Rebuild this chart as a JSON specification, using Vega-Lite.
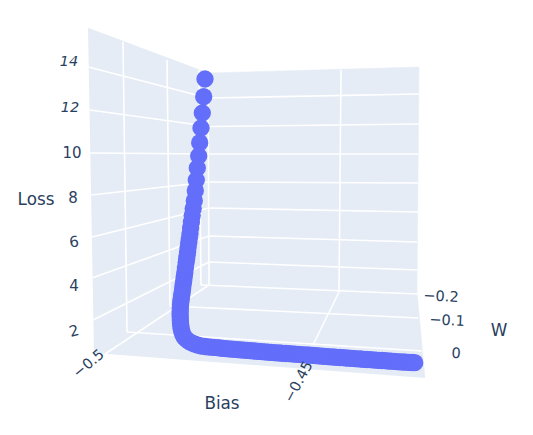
{
"$schema":"https://vega.github.io/schema/vega-lite/v6.json",
"width":533,"height":435,"padding":0,"autosize":"none","background":"white",
"view":{"stroke":null},
"encoding":{
"x":{"field":"x","type":"quantitative","scale":{"domain":[0,533],"range":[0,533]},"axis":null},
"y":{"field":"y","type":"quantitative","scale":{"domain":[435,0],"range":[435,0],"reverse":false},"axis":null}
},
"layer":[
{"data":{"values":[
{"pane":"left","i":0,"x":88,"y":28},{"pane":"left","i":1,"x":208,"y":73},{"pane":"left","i":2,"x":209,"y":285},{"pane":"left","i":3,"x":94,"y":353},
{"pane":"back","i":0,"x":208,"y":73},{"pane":"back","i":1,"x":419,"y":67},{"pane":"back","i":2,"x":417,"y":292},{"pane":"back","i":3,"x":209,"y":285},
{"pane":"floor","i":0,"x":94,"y":353},{"pane":"floor","i":1,"x":209,"y":285},{"pane":"floor","i":2,"x":417,"y":292},{"pane":"floor","i":3,"x":425,"y":378}
]},
"mark":{"type":"line","fill":"#e5ecf6","stroke":"#e5ecf6","strokeWidth":0.5},
"encoding":{"detail":{"field":"pane"},"order":{"field":"i","type":"quantitative"}}},
{"data":{"values":[
{"x":88.5,"y":67,"x2":208,"y2":98},{"x":208,"y":98,"x2":419,"y2":94},
{"x":90,"y":110,"x2":210,"y2":126.5},{"x":210,"y":126.5,"x2":419,"y2":124},
{"x":90,"y":153,"x2":210,"y2":154},{"x":210,"y":154,"x2":418,"y2":154},
{"x":91,"y":195,"x2":209,"y2":182},{"x":209,"y":182,"x2":418,"y2":183},
{"x":92,"y":237,"x2":209,"y2":208},{"x":209,"y":208,"x2":418,"y2":212},
{"x":92,"y":278,"x2":209,"y2":236},{"x":209,"y":236,"x2":417,"y2":242},
{"x":93,"y":320,"x2":209,"y2":262},{"x":209,"y":262,"x2":417,"y2":270},
{"x":123,"y":42,"x2":127,"y2":332},{"x":167,"y":60,"x2":170,"y2":306},{"x":199,"y":70,"x2":201,"y2":285},
{"x":208,"y":73,"x2":209,"y2":285},{"x":341,"y":70,"x2":339,"y2":292},
{"x":127,"y":332,"x2":422,"y2":351},{"x":170,"y":306,"x2":418,"y2":318},{"x":201,"y":285,"x2":417,"y2":294},
{"x":105,"y":354,"x2":209,"y2":285},{"x":313,"y":345,"x2":339,"y2":292}
]},
"mark":{"type":"rule","stroke":"#ffffff","strokeWidth":1.6},
"encoding":{"x2":{"field":"x2"},"y2":{"field":"y2"}}},
{"data":{"values":[
{"x":205,"y":79},{"x":203.7,"y":96.7},{"x":202.3,"y":113},{"x":201,"y":128},{"x":199.7,"y":142.7},{"x":198.7,"y":156},{"x":197.3,"y":168},{"x":196.3,"y":180},{"x":195.3,"y":190.7},{"x":194.3,"y":200.7},
{"x":193.2,"y":208.5},{"x":192.2,"y":215.5},{"x":191.4,"y":222},{"x":190.6,"y":228},{"x":190,"y":233.5},{"x":189.3,"y":238.5},{"x":188.7,"y":243},{"x":188.1,"y":247.5},{"x":187.6,"y":251.5},{"x":187.1,"y":255.5},{"x":186.6,"y":259},{"x":186.1,"y":262.5},{"x":185.4,"y":268},{"x":184.8,"y":273},{"x":184.2,"y":277},{"x":183.7,"y":281},{"x":183.1,"y":285},{"x":182.6,"y":289},{"x":182.1,"y":293},{"x":181.6,"y":296},{"x":181.2,"y":299},{"x":180.8,"y":302},{"x":180.5,"y":305},{"x":180.3,"y":308},{"x":180.2,"y":311},{"x":180.1,"y":314},{"x":180.2,"y":317},{"x":180.3,"y":320},{"x":180.5,"y":323},{"x":180.8,"y":326},{"x":181.2,"y":329},{"x":182,"y":332},{"x":183,"y":335},{"x":184.5,"y":337.5},{"x":186.5,"y":339.5},{"x":189,"y":341.5},{"x":192,"y":343},{"x":195,"y":344.2},{"x":198,"y":345.2},{"x":201,"y":346},{"x":205,"y":346.5},
{"x":208,"y":346.8},{"x":211,"y":347.1},{"x":214,"y":347.4},{"x":217,"y":347.7},{"x":220,"y":348},{"x":223,"y":348.3},{"x":226,"y":348.6},{"x":229,"y":348.9},{"x":232,"y":349.1},{"x":235,"y":349.4},{"x":238,"y":349.6},{"x":241,"y":349.9},{"x":244,"y":350.1},{"x":247,"y":350.4},{"x":250,"y":350.7},{"x":253,"y":350.9},{"x":256,"y":351.2},{"x":259,"y":351.4},{"x":262,"y":351.7},{"x":265,"y":351.9},{"x":268,"y":352.2},{"x":271,"y":352.4},{"x":274,"y":352.6},{"x":277,"y":352.8},{"x":280,"y":353},{"x":283,"y":353.3},{"x":286,"y":353.5},{"x":289,"y":353.7},{"x":292,"y":353.9},{"x":295,"y":354.1},{"x":298,"y":354.4},{"x":301,"y":354.6},{"x":304,"y":354.8},{"x":307,"y":355},{"x":310,"y":355.2},{"x":313,"y":355.4},{"x":316,"y":355.7},{"x":319,"y":355.9},{"x":322,"y":356.1},{"x":325,"y":356.4},{"x":328,"y":356.6},{"x":331,"y":356.8},{"x":334,"y":357},{"x":337,"y":357.3},{"x":340,"y":357.5},{"x":343,"y":357.7},{"x":346,"y":358},{"x":349,"y":358.2},{"x":352,"y":358.4},{"x":355,"y":358.6},{"x":358,"y":358.8},{"x":361,"y":359},{"x":364,"y":359.3},{"x":367,"y":359.5},{"x":370,"y":359.7},{"x":373,"y":359.9},{"x":376,"y":360.1},{"x":379,"y":360.3},{"x":382,"y":360.5},{"x":385,"y":360.7},{"x":388,"y":361},{"x":391,"y":361.2},{"x":394,"y":361.4},{"x":397,"y":361.6},{"x":400,"y":361.8},{"x":403,"y":362},{"x":406,"y":362.2},{"x":409,"y":362.3},{"x":412,"y":362.5},{"x":414.7,"y":362.7}
]},
"mark":{"type":"point","filled":true,"shape":"circle","size":300,"color":"#636efa","opacity":1,"strokeWidth":0}},
{"data":{"values":[
{"label":"14","x":69,"y":62},{"label":"12","x":70,"y":108}
]},
"mark":{"type":"text","font":"DejaVu Sans","fontSize":14.5,"fontStyle":"italic","color":"#2a3f5f","align":"center","baseline":"middle"},
"encoding":{"text":{"field":"label"}}},
{"data":{"values":[
{"label":"10","x":72,"y":153,"a":0},{"label":"8","x":73,"y":198,"a":0},{"label":"6","x":74,"y":242,"a":352},{"label":"4","x":74,"y":286,"a":0},{"label":"2","x":74,"y":331,"a":345}
]},
"mark":{"type":"text","font":"DejaVu Sans","fontSize":15,"color":"#2a3f5f","align":"center","baseline":"middle"},
"encoding":{"text":{"field":"label"},"angle":{"field":"a","type":"quantitative","scale":null}}},
{"data":{"values":[
{"label":"−0.5","x":89,"y":364,"a":320},{"label":"−0.45","x":299,"y":382,"a":298},
{"label":"−0.2","x":441,"y":297,"a":3},{"label":"−0.1","x":447,"y":321,"a":3},{"label":"0","x":456,"y":354,"a":3}
]},
"mark":{"type":"text","font":"DejaVu Sans","fontSize":14.5,"color":"#2a3f5f","align":"center","baseline":"middle"},
"encoding":{"text":{"field":"label"},"angle":{"field":"a","type":"quantitative","scale":null}}},
{"data":{"values":[
{"label":"Loss","x":36,"y":200},{"label":"Bias","x":222,"y":404},{"label":"W","x":499,"y":331}
]},
"mark":{"type":"text","font":"DejaVu Sans","fontSize":16.8,"color":"#2a3f5f","align":"center","baseline":"middle"},
"encoding":{"text":{"field":"label"}}}
]
}
